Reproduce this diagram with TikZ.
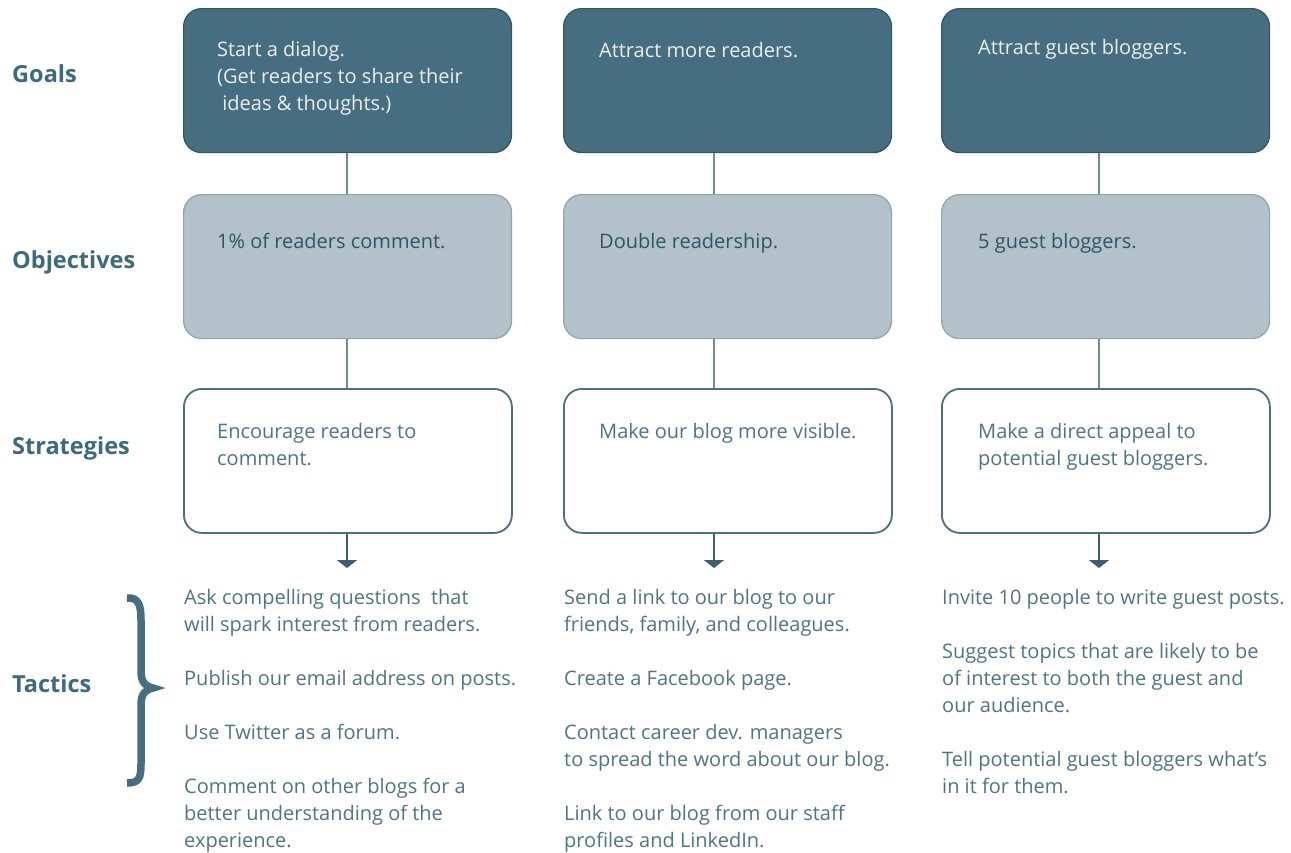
\documentclass[tikz,border=0pt]{standalone}
\usepackage{fontspec}
\setmainfont{Open Sans}
\usetikzlibrary{arrows.meta}
\definecolor{goalfill}{HTML}{466E80}
\definecolor{goaledge}{HTML}{2F5566}
\definecolor{objfill}{HTML}{B3C1CA}
\definecolor{objedge}{HTML}{8FA4AF}
\definecolor{stratedge}{HTML}{4D6F7E}
\definecolor{linkc}{HTML}{6F8D99}
\definecolor{arrowc}{HTML}{3D5F6E}
\definecolor{headc}{HTML}{3E6A7E}
\definecolor{bodyc}{HTML}{4F7486}
\tikzset{
  box/.style={rectangle, rounded corners=18pt, minimum width=328pt,
    minimum height=144pt, anchor=north west, inner sep=0pt},
  goalbox/.style={box, fill=goalfill, draw=goaledge, line width=1.2pt},
  objbox/.style={box, fill=objfill, draw=objedge, line width=1.2pt},
  stratbox/.style={box, fill=white, draw=stratedge, line width=1.8pt},
  % base anchor of a multi-line node is the baseline of its last line
  boxtext/.style={anchor=base west, align=left, inner sep=0pt,
    font=\fontsize{20}{27}\selectfont},
  heading/.style={anchor=west, inner sep=0pt, text=headc,
    font=\fontsize{23.5}{28}\selectfont\bfseries},
  tactic/.style={anchor=base west, align=left, inner sep=0pt, text=bodyc,
    font=\fontsize{20}{27}\selectfont},
  link/.style={draw=linkc, line width=2pt},
  down/.style={draw=arrowc, line width=2pt, -{Triangle[width=20pt,length=8pt]}},
}
\begin{document}
\begin{tikzpicture}[x=1pt,y=-1pt]
\useasboundingbox (0,0) rectangle (1291,852);

% row labels
\node[heading] (lg) at (12,74) {Goals};
\node[heading] (lo) at (12,262) {Objectives};
\node[heading] (ls) at (12,448) {Strategies};
\node[heading] (lt) at (12,684) {Tactics};

% boxes
\node[goalbox]  (g1) at (183,8) {};
\node[goalbox]  (g2) at (563,8) {};
\node[goalbox]  (g3) at (941,8) {};
\node[objbox]   (o1) at (183,194) {};
\node[objbox]   (o2) at (563,194) {};
\node[objbox]   (o3) at (941,194) {};
\node[stratbox] (s1) at (183,388) {};
\node[stratbox] (s2) at (563,388) {};
\node[stratbox] (s3) at (941,388) {};

% box texts
\node[boxtext, text=white!88!goalfill] (g1t) at (217,110)
  {Start a dialog.\\(Get readers to share their\\\ ideas \& thoughts.)};
\node[boxtext, text=white!88!goalfill] (g2t) at (599,57) {Attract more readers.};
\node[boxtext, text=white!88!goalfill] (g3t) at (978,54) {Attract guest bloggers.};
\node[boxtext, text=goaledge] (o1t) at (217,248) {1\% of readers comment.};
\node[boxtext, text=goaledge] (o2t) at (599,248) {Double readership.};
\node[boxtext, text=goaledge] (o3t) at (978,248) {5 guest bloggers.};
\node[boxtext, text=bodyc] (s1t) at (217,465) {Encourage readers to\\comment.};
\node[boxtext, text=bodyc] (s2t) at (599,438) {Make our blog more visible.};
\node[boxtext, text=bodyc] (s3t) at (978,465) {Make a direct appeal to\\potential guest bloggers.};

% connector columns
\coordinate (c1) at (347,0);
\coordinate (c2) at (714,0);
\coordinate (c3) at (1099,0);
\coordinate (a1) at (347,568);
\coordinate (a2) at (714,568);
\coordinate (a3) at (1099,568);

\foreach \i in {1,2,3}{
  \draw[link] (g\i.south -| c\i) -- (o\i.north -| c\i);
  \draw[link] (o\i.south -| c\i) -- (s\i.north -| c\i);
  \draw[down] (s\i.south -| c\i) -- (a\i);
}

% tactics
\node[tactic] (t1) at (184,847)
  {Ask compelling questions\ \ that\\will spark interest from readers.\\[27pt]
   Publish our email address on posts.\\[27pt]
   Use Twitter as a forum.\\[27pt]
   Comment on other blogs for a\\better understanding of the\\experience.};
\node[tactic] (t2) at (564,847)
  {Send a link to our blog to our\\friends, family, and colleagues.\\[27pt]
   Create a Facebook page.\\[27pt]
   Contact career dev. managers\\to spread the word about our blog.\\[27pt]
   Link to our blog from our staff\\profiles and LinkedIn.};
\node[tactic] (t3) at (942,793)
  {Invite 10 people to write guest posts.\\[27pt]
   Suggest topics that are likely to be\\of interest to both the guest and\\our audience.\\[27pt]
   Tell potential guest bloggers what’s\\in it for them.};

% brace grouping the tactics
\draw[draw=goalfill, line width=7.5pt]
  (127,598) .. controls (139,597) and (141,606) .. (141,620)
  -- (141,672) .. controls (141,682) and (146,687) .. (153,688)
  .. controls (146,689) and (141,694) .. (141,704)
  -- (141,764) .. controls (141,778) and (139,783) .. (127,783);
\end{tikzpicture}
\end{document}
